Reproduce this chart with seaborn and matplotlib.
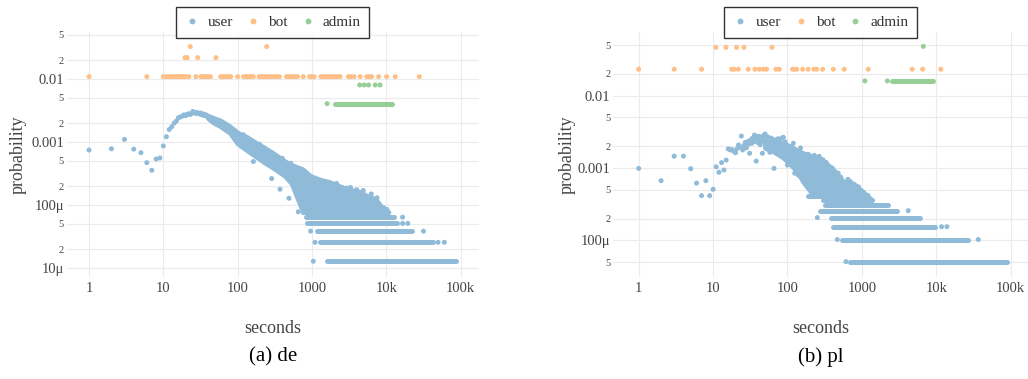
import pandas as pd
import seaborn as sns
import matplotlib.pyplot as plt
from matplotlib.lines import Line2D
from matplotlib.ticker import NullLocator

# ---------------- (a) de ----------------
de_user_x = [1, 2, 3, 4, 5, 6, 7, 8, 9, 10, 11, 12, 13, 14, 15, 16,
             17, 18, 19, 20, 21, 22, 23, 24, 25, 26, 27, 28, 29, 30,
             31, 32, 33, 34, 35, 36, 37, 38, 39, 40,
             163, 196, 287, 372, 491, 656, 728, 1660, 2150, 2930,
             3300, 4000, 4900, 6300, 7500, 9300, 10200, 120, 150, 230, 400, 520,
             1045, 1100, 49800, 60500, 960, 31700, 16600, 19500, 16600]
de_user_y = [7.46e-4, 7.8e-4, 1.10e-3, 7.7e-4, 6.76e-4, 4.7e-4, 3.56e-4, 5.37e-4, 5.57e-4, 8.65e-4,
             1.21e-3, 1.58e-3, 1.75e-3, 2.0e-3, 2.15e-3, 2.43e-3,
             2.50e-3, 2.58e-3, 2.70e-3, 2.62e-3, 2.75e-3, 2.80e-3, 2.72e-3, 2.85e-3, 3.05e-3, 2.90e-3,
             2.95e-3, 2.82e-3, 2.92e-3, 2.85e-3, 2.78e-3, 2.88e-3, 2.70e-3, 2.80e-3, 2.65e-3, 2.72e-3,
             2.60e-3, 2.68e-3, 2.55e-3, 2.50e-3,
             4.9e-4, 9.2e-4, 2.63e-4, 1.78e-4, 1.28e-4, 7.8e-5, 3.7e-4, 2.2e-4, 2.2e-4, 1.85e-4,
             1.9e-4, 1.75e-4, 1.7e-4, 1.5e-4, 1.3e-4, 9.0e-5, 8.5e-5, 1.3e-3, 1.05e-3, 8.0e-4, 5.5e-4, 4.6e-4,
             1.28e-5, 2.56e-5, 2.56e-5, 2.56e-5, 3.85e-5, 3.85e-5, 5.1e-5, 5.1e-5, 6.4e-5]
# dense cloud of user points (upper / lower edge of the cloud)
de_core_x = [40, 47, 58, 79, 100, 132, 181, 240, 302, 434, 535, 656, 766, 942, 1300, 1740,
             2300, 2940, 3600, 4440, 5750, 7080, 8700, 10700]
de_core_hi = [2.6e-3, 2.4e-3, 2.2e-3, 1.75e-3, 1.4e-3, 1.2e-3, 9.5e-4, 7.8e-4, 6.6e-4, 4.9e-4, 4.3e-4,
              3.9e-4, 3.6e-4, 2.9e-4, 2.5e-4, 2.3e-4, 2.0e-4, 1.8e-4, 1.7e-4, 1.6e-4, 1.35e-4,
              1.25e-4, 9.2e-5, 7.7e-5]
de_core_lo = [2.4e-3, 2.05e-3, 1.8e-3, 1.4e-3, 9.5e-4, 7.5e-4, 5.8e-4, 4.6e-4, 3.9e-4, 2.9e-4, 2.2e-4,
              1.2e-4, 7.7e-5, 7.7e-5, 7.7e-5, 7.7e-5, 7.7e-5, 7.7e-5, 7.7e-5, 7.7e-5, 7.7e-5,
              7.7e-5, 7.7e-5, 7.7e-5]
# rows of equal counts at long waiting times
de_row_level = [1.28e-5, 2.56e-5, 3.85e-5, 5.1e-5, 6.4e-5, 7.7e-5]
de_row_from = [1580, 1285, 1160, 870, 830, 770]
de_row_to = [87000, 43000, 22000, 13800, 12800, 10700]

de_bot_x = [1, 6, 10, 11, 12, 13, 14, 15, 16, 17, 18, 19, 20, 22, 27.5, 32, 34, 36, 38, 40, 43,
            59, 63, 67, 72, 76, 81, 100, 120, 128, 136, 145, 154, 163,
            195, 210, 225, 245, 265, 285, 310, 335, 365, 455, 490, 525, 560, 600, 640, 765,
            930, 1000, 1070, 1320, 1430, 1550, 1680, 1820, 1970, 2130, 2300, 2400,
            3100, 3350, 3700, 4450, 5450, 5900, 6350, 7900, 10100, 13200, 27900,
            19.5, 21, 29, 51, 23, 246]
de_bot_y = [0.0109] * 73 + [0.0218] * 4 + [0.0327] * 2

de_admin_x = [1600, 4400, 5050, 5780, 7100, 8250]
de_admin_y = [0.00406, 0.00803, 0.00803, 0.00803, 0.00803, 0.00803]
de_admin_row_level = [0.00406]
de_admin_row_from = [2060]
de_admin_row_to = [11800]

# ---------------- (b) pl ----------------
pl_user_x = [1, 2, 3, 4, 5, 6, 7, 8, 9, 10, 11, 12, 13, 14, 15,
             16, 17, 18, 19, 20, 21, 22, 23, 24, 25, 26, 27, 28, 29, 30, 31, 32, 33, 34, 35,
             36, 37, 38, 39, 40, 41, 42, 43, 44, 45, 46, 47, 48, 50, 52, 54, 56, 58, 60, 63,
             66, 70, 75, 80, 85, 88, 93, 125,
             120, 150, 190, 230, 267, 300, 330, 400, 480, 520, 650, 700, 900, 1200,
             100, 140, 175, 200, 250, 275,
             611, 468, 36700, 11800, 13900, 252, 4200, 1045]
pl_user_y = [9.9e-4, 6.7e-4, 1.46e-3, 1.46e-3, 9.8e-4, 6.2e-4, 4.16e-4, 6.7e-4, 4.16e-4, 5.1e-4,
             1.04e-3, 8.75e-4, 1.19e-3, 9.4e-4, 1.29e-3,
             1.84e-3, 1.78e-3, 1.80e-3, 1.70e-3, 1.63e-3, 1.85e-3, 2.09e-3, 1.95e-3, 2.77e-3, 1.78e-3,
             2.05e-3, 2.25e-3, 1.9e-3, 2.32e-3, 2.15e-3, 1.6e-3, 2.45e-3, 2.2e-3, 2.6e-3, 2.3e-3,
             2.86e-3, 2.4e-3, 1.25e-3, 2.65e-3, 2.25e-3, 2.75e-3, 2.5e-3, 2.1e-3, 2.7e-3, 2.35e-3,
             1.6e-3, 2.6e-3, 2.8e-3, 2.96e-3, 2.4e-3, 2.7e-3, 2.3e-3, 1.65e-3, 2.6e-3, 2.5e-3,
             9.9e-4, 2.45e-3, 2.55e-3, 2.5e-3, 2.6e-3, 2.66e-3, 2.3e-3, 8.5e-4,
             2.2e-3, 1.9e-3, 1.55e-3, 1.5e-3, 1.45e-3, 1.3e-3, 1.2e-3, 1.0e-3, 8.5e-4, 7.5e-4,
             7.0e-4, 6.5e-4, 5.5e-4, 4.2e-4,
             1.1e-3, 8.0e-4, 6.0e-4, 5.3e-4, 5.0e-4, 4.3e-4,
             5.1e-5, 1.03e-4, 1.03e-4, 1.55e-4, 1.55e-4, 2.07e-4, 2.58e-4, 4.66e-4]
pl_core_x = [50, 65, 88, 108, 135, 163, 210, 273, 350, 437, 560, 767, 1045, 1350]
pl_core_hi = [2.3e-3, 2.3e-3, 2.2e-3, 2.0e-3, 1.75e-3, 1.6e-3, 1.45e-3, 1.36e-3, 1.1e-3, 8.9e-4,
              6.5e-4, 6.1e-4, 4.6e-4, 3.62e-4]
pl_core_lo = [1.9e-3, 1.7e-3, 1.4e-3, 1.15e-3, 9e-4, 6.5e-4, 4.6e-4, 4.14e-4, 4.14e-4, 4.14e-4,
              4.14e-4, 4.14e-4, 4.14e-4, 3.62e-4]
pl_row_level = [5.1e-5, 1.03e-4, 1.55e-4, 2.07e-4, 2.58e-4, 3.1e-4, 3.62e-4, 4.14e-4]
pl_row_from = [692, 535, 413, 390, 270, 320, 300, 186]
pl_row_to = [88300, 26900, 9700, 6100, 2950, 2260, 1350, 1150]

pl_bot_x = [1, 3, 7, 17.8, 19.1, 21.8, 29.7, 36.6, 41.8, 47.3, 52.5, 70, 77.6, 117, 126, 133,
            160, 190, 227, 247, 297, 413, 580, 1220, 4760, 6560, 11500,
            10.9, 14.9, 20.7, 26, 62]
pl_bot_y = [0.0232] * 27 + [0.0465] * 5

pl_admin_x = [1100, 2200, 6700]
pl_admin_y = [0.016, 0.016, 0.048]
pl_admin_row_level = [0.016]
pl_admin_row_from = [2510]
pl_admin_row_to = [9120]

x_ticks = [1, 10, 100, 1000, 1e4, 1e5]
x_labels = ['1', '10', '100', '1000', '10k', '100k']
de_yticks = [0.05, 0.02, 0.01, 0.005, 0.002, 0.001, 5e-4, 2e-4, 1e-4, 5e-5, 2e-5, 1e-5]
de_ylabels = ['5', '2', '0.01', '5', '2', '0.001', '5', '2', '100μ', '5', '2', '10μ']
pl_yticks = [0.05, 0.02, 0.01, 0.005, 0.002, 0.001, 5e-4, 2e-4, 1e-4, 5e-5]
pl_ylabels = ['5', '2', '0.01', '5', '2', '0.001', '5', '2', '100μ', '5']

USER, BOT, ADMIN = '#8fbbd9', '#ffbf86', '#95cf95'
palette = {'user': USER, 'bot': BOT, 'admin': ADMIN}
DOT = 3.6  # marker diameter in points

sns.set_theme(style='white')
plt.rcParams['font.family'] = ['Liberation Serif', 'DejaVu Serif']


def draw_panel(ax, p, xlim, ylim, yticks, ylabels, caption, lab_x):
    df = pd.concat([
        pd.DataFrame({'seconds': p['user_x'], 'probability': p['user_y'], 'role': 'user'}),
        pd.DataFrame({'seconds': p['bot_x'], 'probability': p['bot_y'], 'role': 'bot'}),
        pd.DataFrame({'seconds': p['admin_x'], 'probability': p['admin_y'], 'role': 'admin'}),
    ])
    ax.set_xscale('log')
    ax.set_yscale('log')
    # dense parts: merged dots drawn as filled area / thick rows
    ax.fill_between(p['core_x'], p['core_lo'], p['core_hi'], color=USER, lw=DOT,
                    joinstyle='round', zorder=2)
    ax.hlines(p['row_level'], p['row_from'], p['row_to'], colors=USER, lw=DOT,
              capstyle='round', zorder=2)
    ax.hlines(p['adm_level'], p['adm_from'], p['adm_to'], colors=ADMIN, lw=DOT,
              capstyle='round', zorder=3)
    sns.scatterplot(data=df, x='seconds', y='probability', hue='role', palette=palette,
                    s=DOT ** 2, linewidth=0, legend=False, ax=ax, zorder=3)

    ax.set_xlim(*xlim)
    ax.set_ylim(*ylim)
    ax.set_xticks(x_ticks, x_labels)
    ax.set_yticks(yticks, ylabels)
    ax.xaxis.set_minor_locator(NullLocator())
    ax.yaxis.set_minor_locator(NullLocator())
    for t in ax.get_yticklabels():
        t.set_fontsize(7.5 if len(t.get_text()) == 1 else 10.5)
    ax.tick_params(axis='x', length=0, pad=4, labelsize=10.5, labelcolor='#444444')
    ax.tick_params(axis='y', length=0, pad=2, labelcolor='#444444')
    ax.grid(True, color='#ebebeb', lw=0.8)
    ax.set_axisbelow(True)
    for s in ax.spines.values():
        s.set_visible(False)

    ax.set_xlabel('seconds', fontsize=13, color='#444444')
    ax.set_ylabel('probability', fontsize=13, color='#444444')
    ax.xaxis.label.set_va('center')
    ax.yaxis.label.set_va('center')
    ax.xaxis.set_label_coords(0.5, -0.21)
    ax.yaxis.set_label_coords(lab_x, 0.5)

    handles = [Line2D([], [], marker='o', ls='', color=palette[k], markersize=4.2,
                      markeredgewidth=0, label=k) for k in ['user', 'bot', 'admin']]
    leg = ax.legend(handles=handles, loc='upper center', bbox_to_anchor=(0.5, 1.102),
                    ncol=3, frameon=True, fancybox=False, edgecolor='black', fontsize=11,
                    borderaxespad=0, borderpad=0.55, handlelength=1.0, handletextpad=0.5,
                    columnspacing=0.8)
    leg.get_frame().set_linewidth(1.0)
    for t in leg.get_texts():
        t.set_color('#333333')

    bb = ax.get_position()
    fig.text(bb.x0 + bb.width / 2, 0.058, caption, ha='center', va='center',
             fontsize=15, color='black')


de = dict(user_x=de_user_x, user_y=de_user_y, core_x=de_core_x, core_lo=de_core_lo,
          core_hi=de_core_hi, row_level=de_row_level, row_from=de_row_from, row_to=de_row_to,
          bot_x=de_bot_x, bot_y=de_bot_y, admin_x=de_admin_x, admin_y=de_admin_y,
          adm_level=de_admin_row_level, adm_from=de_admin_row_from, adm_to=de_admin_row_to)
pl = dict(user_x=pl_user_x, user_y=pl_user_y, core_x=pl_core_x, core_lo=pl_core_lo,
          core_hi=pl_core_hi, row_level=pl_row_level, row_from=pl_row_from, row_to=pl_row_to,
          bot_x=pl_bot_x, bot_y=pl_bot_y, admin_x=pl_admin_x, admin_y=pl_admin_y,
          adm_level=pl_admin_row_level, adm_from=pl_admin_row_from, adm_to=pl_admin_row_to)

fig = plt.figure(figsize=(10.28, 3.79), dpi=100)
ax_a = fig.add_axes([0.0649, 0.2699, 0.4011, 0.6449])
ax_b = fig.add_axes([0.5966, 0.2699, 0.4034, 0.6449])

draw_panel(ax_a, de, (0.501, 1.775e5), (7.28e-6, 0.0551), de_yticks, de_ylabels, '(a) de', -0.117)
draw_panel(ax_b, pl, (0.456, 1.71e5), (3.16e-5, 0.0751), pl_yticks, pl_ylabels, '(b) pl', -0.112)

fig.savefig('out.png', dpi=100)
